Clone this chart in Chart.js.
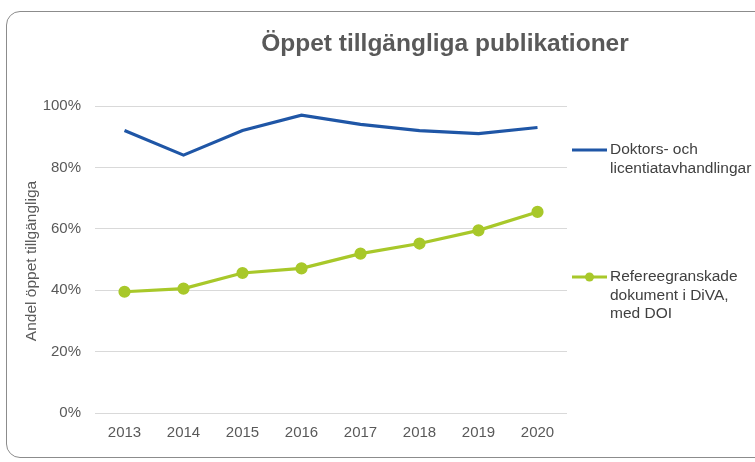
<!DOCTYPE html>
<html>
<head>
<meta charset="utf-8">
<script src="https://cdn.jsdelivr.net/npm/chart.js@4/dist/chart.umd.min.js"></script>
<style>
  html, body { margin: 0; padding: 0; background: #fff; }
  #wrap { position: relative; width: 755px; height: 462px; overflow: hidden; }
  #frame { position: absolute; left: 6px; top: 11px; width: 800px; height: 447px;
           border: 1px solid #8c8c8c; border-radius: 14px; box-sizing: border-box; }
  canvas { position: absolute; left: 0; top: 0; }
</style>
</head>
<body>
<div id="wrap">
  <div id="frame"></div>
  <canvas id="c" width="755" height="462"></canvas>
</div>
<script>
const categories = ['2013', '2014', '2015', '2016', '2017', '2018', '2019', '2020'];
const doktorsValues = [92, 84, 92, 97, 94, 92, 91, 93];
const refereeValues = [39.5, 40.5, 45.6, 47.1, 51.9, 55.2, 59.5, 65.5];
const seriesNames = [['Doktors- och', 'licentiatavhandlingar'], ['Refereegranskade', 'dokument i DiVA,', 'med DOI']];
const yTicks = [0, 20, 40, 60, 80, 100];
const titleText = 'Öppet tillgängliga publikationer';
const yTitle = 'Andel öppet tillgängliga';

const FONT = '"Liberation Sans", Arial, sans-serif';
const BLUE = '#1F56A6';
const GREEN = '#A8C82A';

const overlay = {
  id: 'overlay',
  afterDraw(chart) {
    const ctx = chart.ctx;
    ctx.save();
    // Title
    ctx.fillStyle = '#595959';
    ctx.font = 'bold 24.5px ' + FONT;
    ctx.textAlign = 'center';
    ctx.textBaseline = 'middle';
    ctx.fillText(titleText, 445, 44);
    // Y axis title
    ctx.font = '15.5px ' + FONT;
    ctx.translate(32, 261);
    ctx.rotate(-Math.PI / 2);
    ctx.fillText(yTitle, 0, 0);
    ctx.restore();

    // Legend
    ctx.save();
    ctx.font = '15.5px ' + FONT;
    ctx.textAlign = 'left';
    ctx.textBaseline = 'middle';
    const entries = [{ y: 150 }, { y: 277 }];
    chart.data.datasets.forEach((ds, i) => {
      const y = entries[i].y;
      ctx.strokeStyle = ds.borderColor;
      ctx.lineWidth = ds.borderWidth;
      ctx.beginPath();
      ctx.moveTo(572, y);
      ctx.lineTo(607, y);
      ctx.stroke();
      if (ds.pointRadius > 0) {
        ctx.fillStyle = ds.pointBackgroundColor;
        ctx.beginPath();
        ctx.arc(589.5, y, ds.pointRadius, 0, Math.PI * 2);
        ctx.fill();
      }
      ctx.fillStyle = '#404040';
      seriesNames[i].forEach((line, j) => {
        ctx.fillText(line, 610, y + j * 18.5);
      });
    });
    ctx.restore();
  }
};

new Chart(document.getElementById('c'), {
  type: 'line',
  data: {
    labels: categories,
    datasets: [
      {
        label: seriesNames[0].join(' '),
        data: doktorsValues,
        borderColor: BLUE,
        backgroundColor: BLUE,
        borderWidth: 3.2,
        pointRadius: 0,
        pointHoverRadius: 0,
        tension: 0
      },
      {
        label: seriesNames[1].join(' '),
        data: refereeValues,
        borderColor: GREEN,
        backgroundColor: GREEN,
        pointBackgroundColor: GREEN,
        pointBorderColor: GREEN,
        borderWidth: 3.2,
        pointRadius: 4.5,
        pointHoverRadius: 4.5,
        tension: 0
      }
    ]
  },
  options: {
    responsive: false,
    animation: false,
    devicePixelRatio: 1,
    layout: { padding: { left: 0, top: 106, right: 188, bottom: 0 } },
    plugins: {
      legend: { display: false },
      title: { display: false },
      tooltip: { enabled: false }
    },
    scales: {
      x: {
        offset: true,
        grid: { display: false, drawTicks: false },
        border: { display: false },
        ticks: { color: '#595959', font: { family: FONT, size: 15 }, padding: 11, maxRotation: 0 },
        afterFit(scale) { scale.height = 49; }
      },
      y: {
        min: 0,
        max: 100,
        afterBuildTicks(scale) { scale.ticks = yTicks.map(v => ({ value: v })); },
        grid: { color: '#d9d9d9', lineWidth: 1, drawTicks: false },
        border: { display: false },
        ticks: {
          color: '#595959',
          font: { family: FONT, size: 15 },
          padding: 14,
          callback: v => v + '%'
        },
        afterFit(scale) { scale.width = 95; }
      }
    }
  },
  plugins: [overlay]
});
</script>
</body>
</html>
